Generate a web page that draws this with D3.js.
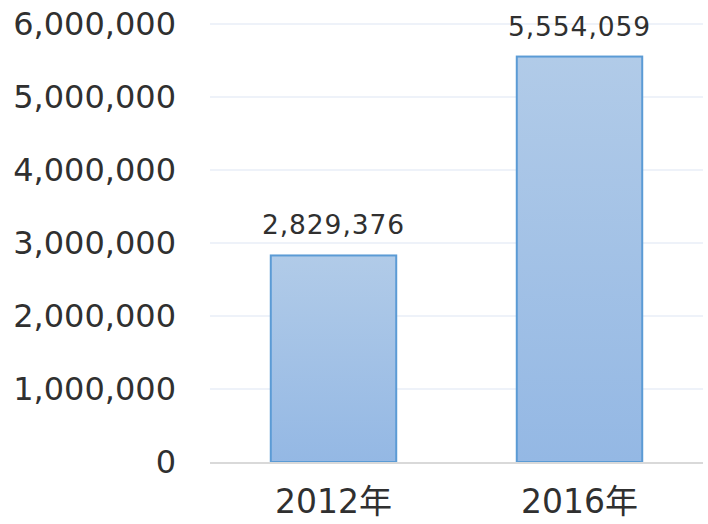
<!DOCTYPE html>
<html>
<head>
<meta charset="utf-8">
<script src="https://cdn.jsdelivr.net/npm/d3@7"></script>
<style>
  body { margin: 0; background: #fff; }
  text { font-family: "DejaVu Sans", "Noto Sans CJK JP", sans-serif; fill: #303030; }
</style>
</head>
<body>
<div id="chart"></div>
<script>
// data
var categories = ["2012年", "2016年"];
var values = [2829376, 5554059];
var yTicks = [0, 1000000, 2000000, 3000000, 4000000, 5000000, 6000000];

var width = 708, height = 524;
var fmt = d3.format(",");

var svg = d3.select("#chart").append("svg")
	.attr("width", width)
	.attr("height", height);

// gradient fill for bars
var grad = svg.append("defs").append("linearGradient")
	.attr("id", "barGrad")
	.attr("x1", 0).attr("y1", 0).attr("x2", 0).attr("y2", 1);
grad.append("stop").attr("offset", "0%").attr("stop-color", "#b1cbe8");
grad.append("stop").attr("offset", "100%").attr("stop-color", "#94b8e4");

var x = d3.scaleBand()
	.domain(categories)
	.range([210.5, 702.5])
	.paddingInner(0.49)
	.paddingOuter(0.245);

var y = d3.scaleLinear()
	.domain([0, 6000000])
	.range([462, 24]);

// gridlines
svg.selectAll(".grid")
	.data(yTicks.slice(1))
	.enter()
	.append("line")
		.attr("class", "grid")
		.attr("x1", 210).attr("x2", 703)
		.attr("y1", function(d) { return y(d); })
		.attr("y2", function(d) { return y(d); })
		.style("stroke", "#eef2f9")
		.style("stroke-width", 2);

// y labels
svg.selectAll(".ylab")
	.data(yTicks)
	.enter()
	.append("text")
		.attr("class", "ylab")
		.attr("x", 176)
		.attr("y", function(d) { return y(d) + 11; })
		.style("text-anchor", "end")
		.style("font-size", "32px")
		.text(function(d) { return fmt(d); });

// bars
svg.selectAll(".bar")
	.data(values)
	.enter()
	.append("rect")
		.attr("class", "bar")
		.attr("x", function(d, i) { return x(categories[i]); })
		.attr("width", x.bandwidth())
		.attr("y", function(d) { return y(d); })
		.attr("height", function(d) { return y(0) - y(d); })
		.style("fill", "url(#barGrad)")
		.style("stroke", "#5b9bd5")
		.style("stroke-width", 2);

// axis baseline
svg.append("line")
	.attr("x1", 210).attr("x2", 703)
	.attr("y1", y(0) + 1).attr("y2", y(0) + 1)
	.style("stroke", "#d9d9d9")
	.style("stroke-width", 2);

// value labels
svg.selectAll(".vlab")
	.data(values)
	.enter()
	.append("text")
		.attr("class", "vlab")
		.attr("x", function(d, i) { return x(categories[i]) + x.bandwidth() / 2; })
		.attr("y", function(d) { return y(d) - 21; })
		.style("text-anchor", "middle")
		.style("font-size", "26.5px")
		.style("letter-spacing", "0.9px")
		.text(function(d) { return fmt(d); });

// category labels
svg.selectAll(".xlab")
	.data(categories)
	.enter()
	.append("text")
		.attr("class", "xlab")
		.attr("x", function(d) { return x(d) + x.bandwidth() / 2; })
		.attr("y", 513)
		.style("text-anchor", "middle")
		.style("font-size", "33px")
		.text(function(d) { return d; });
</script>
</body>
</html>
